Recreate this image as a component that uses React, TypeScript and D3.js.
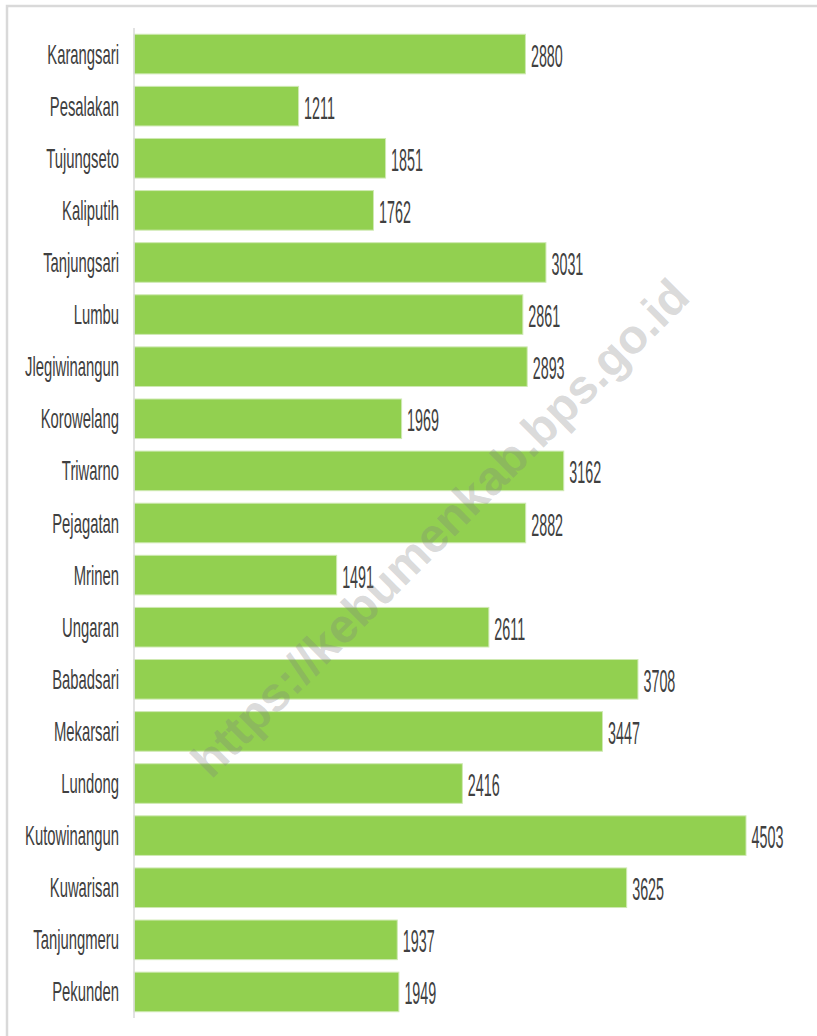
import { useEffect, useRef } from "react";
import * as d3 from "d3";

// villages, top to bottom
const villages = [
  "Karangsari", "Pesalakan", "Tujungseto", "Kaliputih", "Tanjungsari",
  "Lumbu", "Jlegiwinangun", "Korowelang", "Triwarno", "Pejagatan",
  "Mrinen", "Ungaran", "Babadsari", "Mekarsari", "Lundong",
  "Kutowinangun", "Kuwarisan", "Tanjungmeru", "Pekunden",
];

const values = [
  2880, 1211, 1851, 1762, 3031,
  2861, 2893, 1969, 3162, 2882,
  1491, 2611, 3708, 3447, 2416,
  4503, 3625, 1937, 1949,
];

const watermark = "https://kebumenkab.bps.go.id";

export default function App() {
  const svgRef = useRef<SVGSVGElement | null>(null);

  useEffect(() => {
    if (!svgRef.current) return;
    const width = 817;
    const height = 1036;
    const left = 134;

    const svg = d3.select(svgRef.current)
      .attr("width", width)
      .attr("height", height)
      .attr("viewBox", `0 0 ${width} ${height}`);
    svg.selectAll("*").remove();

    const data = villages.map((name, i) => ({ name, value: values[i] }));

    const x = d3.scaleLinear().domain([0, 4503]).range([left, 746]);
    const y = d3.scaleBand<string>()
      .domain(villages)
      .range([28, 1018])
      .paddingInner(0.24)
      .paddingOuter(0.12);

    // frame
    svg.append("rect")
      .attr("x", 7).attr("y", 6)
      .attr("width", width + 20).attr("height", height + 20)
      .attr("fill", "#fff")
      .attr("stroke", "#d9d9d9")
      .attr("stroke-width", 2.5);

    // bars
    svg.selectAll(".bar")
      .data(data)
      .join("rect")
      .attr("class", "bar")
      .attr("x", x(0))
      .attr("y", (d) => y(d.name)!)
      .attr("width", (d) => x(d.value) - x(0))
      .attr("height", y.bandwidth())
      .attr("fill", "#92d050")
      .attr("stroke", "#cfe9b3")
      .attr("stroke-width", 1);

    // axis line
    svg.append("line")
      .attr("x1", left).attr("x2", left)
      .attr("y1", 28).attr("y2", 1018)
      .attr("stroke", "#d9d9d9")
      .attr("stroke-width", 1.5);

    const font = "'Liberation Sans', Arial, sans-serif";

    // category labels (condensed look)
    svg.selectAll(".cat")
      .data(data)
      .join("g")
      .attr("class", "cat")
      .attr("transform", (d) => `translate(119,${y(d.name)! + y.bandwidth() / 2 + 9.5}) scale(0.53,1)`)
      .append("text")
      .attr("text-anchor", "end")
      .attr("font-family", font)
      .attr("font-size", 28)
      .attr("fill", "#404040")
      .text((d) => d.name);

    // value labels
    svg.selectAll(".val")
      .data(data)
      .join("g")
      .attr("class", "val")
      .attr("transform", (d) => `translate(${x(d.value) + 5.5},${y(d.name)! + y.bandwidth() / 2 + 12.5}) scale(0.47,1)`)
      .append("text")
      .attr("font-family", font)
      .attr("font-size", 30.5)
      .attr("fill", "#404040")
      .text((d) => String(d.value));

    // watermark
    svg.append("text")
      .attr("transform", "translate(440,528) rotate(-45)")
      .attr("text-anchor", "middle")
      .attr("dominant-baseline", "central")
      .attr("font-family", font)
      .attr("font-weight", "bold")
      .attr("font-size", 48)
      .attr("fill", "#808080")
      .attr("fill-opacity", 0.3)
      .text(watermark);
  }, []);

  return (
    <div style={{ position: "absolute", top: 0, left: 0 }}>
      <svg ref={svgRef} style={{ display: "block" }}></svg>
    </div>
  );
}
